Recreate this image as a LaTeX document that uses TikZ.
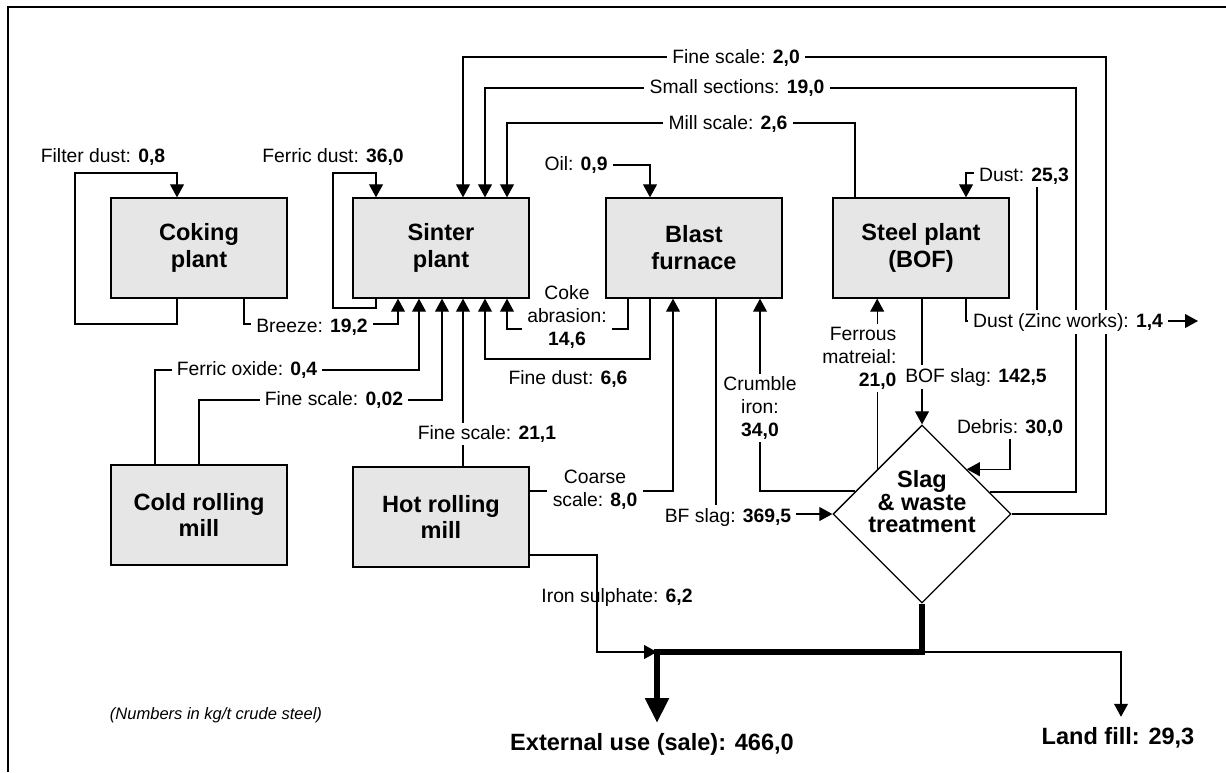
\documentclass[tikz,border=0pt]{standalone}
\usepackage{fontspec}
\setmainfont{Liberation Sans}
\usepackage{tikz}
\usetikzlibrary{arrows.meta,shapes.geometric}
\definecolor{boxgray}{HTML}{E6E6E6}

\begin{document}
\begin{tikzpicture}[x=0.02cm, y=-0.02cm,
  every node/.style={font=\fontsize{11}{13}\selectfont},
  unit/.style={draw, line width=0.75pt, fill=boxgray, minimum width=3.52cm,
    minimum height=2cm, align=center, font=\bfseries\fontsize{13.4}{15.3}\selectfont},
  lbl/.style={fill=white, inner xsep=3pt, inner ysep=1.5pt, align=center},
  sink/.style={anchor=base, inner ysep=5.6pt, font=\bfseries\fontsize{13.4}{16}\selectfont},
  pipe/.style={line width=0.7pt},
  flow/.style={pipe, -{Triangle[length=7.4pt,width=7.9pt]}},
  bigflow/.style={line width=3.1pt, -{Triangle[length=14pt,width=13pt]}}]
  \useasboundingbox (0,0) rectangle (1226,772);
  \draw[line width=1.2pt] (8,772) -- (8,7) -- (1226,7);

  % plants
  \node[unit] (coking) at (199,248) {Coking\\plant};
  \node[unit] (sinter) at (441,248) {Sinter\\plant};
  \node[unit] (furnace) at (694,248) {Blast\\furnace};
  \node[unit] (steel) at (921,248) {Steel plant\\(BOF)};
  \node[unit] (cold) at (199,515) {Cold rolling\\mill};
  \node[unit] (hot) at (441,517) {Hot rolling\\mill};
  \node[draw, diamond, line width=0.75pt, fill=white, shape aspect=1, inner sep=0pt,
    minimum width=3.56cm, minimum height=3.56cm] (slag) at (922,514) {};
  \node[align=center, font=\bfseries\fontsize{13.4}{12.8}\selectfont] (slagtext) at (922,502)
    {Slag\\\& waste\\treatment};

  % free ends
  \coordinate (zincout) at (1198,321);
  \coordinate (junction) at (657,652);

  % loops back into the same plant
  \draw[flow] (177,0 |- coking.south) -- (177,324) -- (75,324) -- (75,173) -- (177,173) -- (177,0 |- coking.north);
  \draw[flow] (376,0 |- sinter.south) -- (376,308) -- (333,308) -- (333,173) -- (376,173) -- (376,0 |- sinter.north);

  % into the sinter plant from below
  \draw[flow] (244,0 |- coking.south) -- (244,324) -- (398,324) -- (398,0 |- sinter.south);
  \draw[flow] (155,0 |- cold.north) -- (155,370) -- (419,370) -- (419,0 |- sinter.south);
  \draw[flow] (199,0 |- cold.north) -- (199,400) -- (442,400) -- (442,0 |- sinter.south);
  \draw[flow] (463,0 |- hot.north) -- (463,0 |- sinter.south);
  \draw[flow] (650,0 |- furnace.south) -- (650,359) -- (485,359) -- (485,0 |- sinter.south);

  % into the sinter plant from above
  \draw[flow] (slag.east) -| (1106,57) -| (463,0 |- sinter.north);
  \draw[flow] (slag.18.2) -| (1076,88) -| (485,0 |- sinter.north);
  \draw[flow] (855,0 |- steel.north) -- (855,123) -| (507,0 |- sinter.north);

  % blast furnace
  \draw[flow] (hot.east |- 0,491) -- (673,491) -- (673,0 |- furnace.south);
  \draw[flow] (716,0 |- furnace.south) -- (716,514) -- (slag.west);
  \draw[flow] (slag.161.6) -| (760,0 |- furnace.south);

  % steel plant
  \draw[flow] (1037,321) |- (966,173) -- (966,0 |- steel.north);
  \draw[flow] (slag.north west) -- (slag.north west |- steel.south);
  \draw[flow] (slag.north |- steel.south) -- (slag.north);
  \draw[flow] (966,0 |- steel.south) |- (zincout);

  % labels
  \node[lbl] (filterdust) at (103,157) {Filter dust: \textbf{0,8}};
  \node[lbl] (ferricdust) at (333,157) {Ferric dust: \textbf{36,0}};
  \node[lbl] (breeze) at (312,327) {Breeze: \textbf{19,2}};
  \node[lbl] (ferricoxide) at (247,370) {Ferric oxide: \textbf{0,4}};
  \node[lbl] (finescaleA) at (334,400) {Fine scale: \textbf{0,02}};
  \node[lbl] (finescaleB) at (487,434) {Fine scale: \textbf{21,1}};
  \node[inner xsep=3pt, align=center] (cokeabr) at (567,317) {Coke\\abrasion:\\\textbf{14,6}};
  \node[lbl] (finedust) at (568,379) {Fine dust: \textbf{6,6}};
  \node[lbl] (coarse) at (595,490) {Coarse\\scale: \textbf{8,0}};
  \node[lbl] (bfslag) at (728,517) {BF slag: \textbf{369,5}};
  \node[lbl] (crumble) at (760,408) {Crumble\\iron:\\\textbf{34,0}};
  \node[lbl, align=right, anchor=east] (ferrous) at (902,358) {Ferrous\\matreial:\\\textbf{21,0}};
  \node[lbl] (bofslag) at (976,377) {BOF slag: \textbf{142,5}};
  \node[lbl] (zinc) at (1068,322) {Dust (Zinc works): \textbf{1,4}};
  \node[lbl] (dust) at (1024,176) {Dust: \textbf{25,3}};
  \node[lbl] (debris) at (1010,428) {Debris: \textbf{30,0}};
  \node[lbl] (finescaleC) at (736,58) {Fine scale: \textbf{2,0}};
  \node[lbl] (sections) at (737,88) {Small sections: \textbf{19,0}};
  \node[lbl] (millscale) at (728,124) {Mill scale: \textbf{2,6}};
  \node[lbl] (oil) at (576,165) {Oil: \textbf{0,9}};
  \node[lbl] (sulphate) at (617,597) {Iron sulphate: \textbf{6,2}};
  \node[font=\itshape\fontsize{9.4}{11}\selectfont] (units) at (216,715) {(Numbers in kg/t crude steel)};
  \node[sink] (external) at (652,750) {External use (sale): 466,0};
  \node[sink] (landfill) at (1118,744) {Land fill: 29,3};

  % oil into the furnace
  \draw[flow] (oil.east) -| (650,0 |- furnace.north);

  % coke abrasion runs round its label
  \draw[pipe] (628,0 |- furnace.south) |- (cokeabr.east |- 0,329);
  \draw[flow] (cokeabr.west |- 0,329) -| (507,0 |- sinter.south);

  % debris and the way out
  \draw[flow] (debris.south) |- (slag.north east);
  \draw[flow] (hot.east |- 0,555) -| (597,652) -- (junction);
  \draw[bigflow] (slag.south) |- (junction) -- (junction |- external.north);
  \draw[flow] (slag.south |- junction) -| (1121,0 |- landfill.north);
\end{tikzpicture}
\end{document}
